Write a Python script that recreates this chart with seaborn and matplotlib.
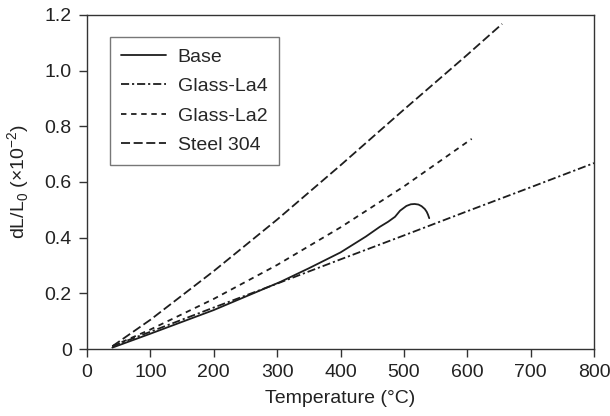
import matplotlib
matplotlib.use("Agg")
import matplotlib.pyplot as plt
import pandas as pd
import seaborn as sns
from matplotlib.ticker import FuncFormatter

# values (temperature in C, dL/L0 in 1e-2)
base_t = [40, 100, 200, 305, 350, 400, 440, 462, 475, 486, 494, 504, 511, 517, 523, 528, 533, 536, 538, 540]
base_v = [0.005, 0.055, 0.14, 0.241, 0.29, 0.347, 0.404, 0.439, 0.457, 0.475, 0.497, 0.514, 0.520, 0.521, 0.519, 0.513, 0.503, 0.493, 0.483, 0.470]

la4_t = [40, 100, 200, 300, 400, 500, 600, 700, 800]
la4_v = [0.01, 0.062, 0.149, 0.235, 0.322, 0.408, 0.495, 0.581, 0.668]

la2_t = [40, 100, 200, 300, 400, 500, 607]
la2_v = [0.01, 0.07, 0.18, 0.302, 0.437, 0.584, 0.755]

steel_t = [40, 100, 200, 300, 400, 500, 600, 655]
steel_v = [0.01, 0.105, 0.28, 0.465, 0.66, 0.86, 1.057, 1.168]

names = ["Base", "Glass-La4", "Glass-La2", "Steel 304"]
dash_styles = {
    "Base": "",
    "Glass-La4": (4.5, 1.6, 1.2, 1.6),
    "Glass-La2": (3, 2.6),
    "Steel 304": (5, 2),
}

frames = []
for name, t, v in zip(names, [base_t, la4_t, la2_t, steel_t], [base_v, la4_v, la2_v, steel_v]):
    frames.append(pd.DataFrame({"T": t, "dL": v, "series": name}))
df = pd.concat(frames, ignore_index=True)

sns.set_theme(style="ticks")
plt.rcParams["font.family"] = ["Liberation Sans", "DejaVu Sans"]
fs = 14

fig = plt.figure(figsize=(6.1, 4.16), dpi=100)
ax = fig.add_axes([0.1426, 0.161, 0.8312, 0.803])

sns.lineplot(
    data=df, x="T", y="dL", style="series", style_order=names,
    dashes=dash_styles, color="#1e1e1e", linewidth=1.3,
    sort=False, estimator=None, ax=ax,
)

ax.set_xlim(0, 800)
ax.set_ylim(0, 1.2)
ax.set_xticks(range(0, 801, 100))
ax.set_yticks([0, 0.2, 0.4, 0.6, 0.8, 1.0, 1.2])
ax.yaxis.set_major_formatter(FuncFormatter(lambda v, p: "0" if v == 0 else f"{v:.1f}"))

for s in ax.spines.values():
    s.set_visible(True)
    s.set_color("#333333")
    s.set_linewidth(1.0)
ax.tick_params(direction="out", length=6, width=1.0, color="#333333", pad=5,
               labelsize=fs, labelcolor="#222222", top=False, right=False)

ax.set_xlabel("Temperature (°C)", fontsize=fs, color="#222222", labelpad=6)
ax.set_ylabel(r"dL/L$_\mathregular{0}$ (×10$^\mathregular{-2}$)", fontsize=fs,
              color="#222222", labelpad=9)

old = ax.get_legend()
handles = old.legend_handles
labels = [t.get_text() for t in old.get_texts()]
leg = ax.legend(handles, labels, loc="upper left", bbox_to_anchor=(0.045, 0.935),
                borderaxespad=0, frameon=True, fancybox=False, edgecolor="#555555",
                fontsize=fs, handlelength=2.3, labelspacing=0.6, borderpad=0.6,
                handletextpad=0.6)
leg.get_frame().set_linewidth(1.0)
for h in leg.legend_handles:
    h.set_linewidth(1.3)

fig.savefig("out.png", dpi=100)
